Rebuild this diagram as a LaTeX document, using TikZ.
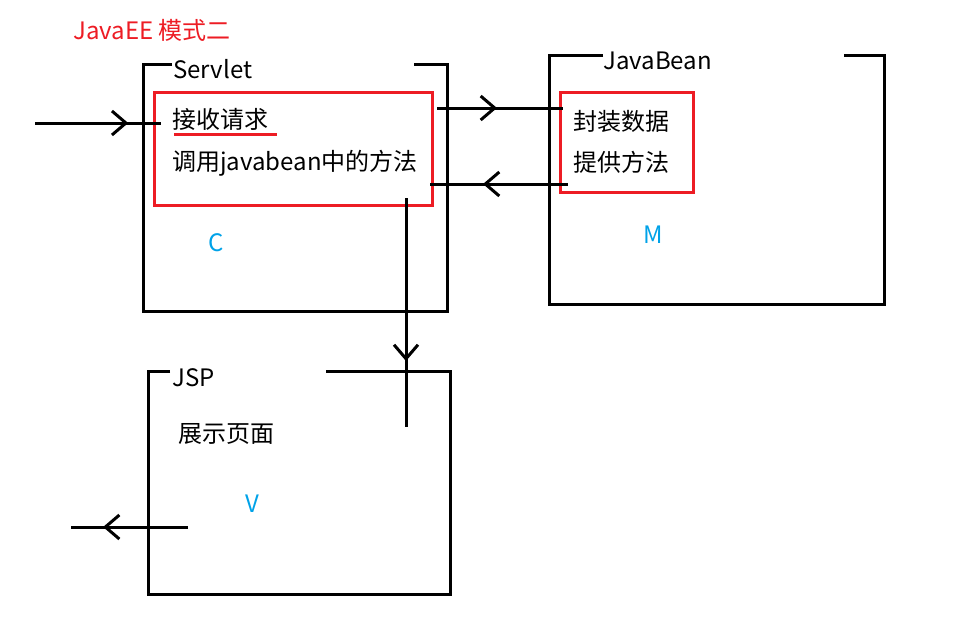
\documentclass[tikz,border=0pt]{standalone}
\usepackage{fontspec}
\newfontfamily\cjk{Noto Sans CJK SC}
\usetikzlibrary{arrows.meta,decorations.markings}
\definecolor{paintred}{RGB}{237,28,36}
\definecolor{paintblue}{RGB}{0,162,232}
\tikzset{
  txt/.style={font=\cjk\fontsize{24}{28}\selectfont, inner sep=0pt, anchor=base west},
  mvc/.style={txt, text=paintblue},
  frame/.style={line width=3pt, black},
  redbox/.style={line width=3pt, paintred},
  flow/.style={line width=3pt, postaction={decorate},
    decoration={markings, mark=at position #1 with {\arrow{Straight Barb[length=14pt,width=24pt,line width=3pt]}}}}
}
\begin{document}
\begin{tikzpicture}[x=1pt,y=-1pt]
\useasboundingbox (0,0) rectangle (979,621);

\node[txt, text=paintred] (title) at (73,39) {JavaEE 模式二};

% Servlet (C)
\draw[frame] (172,64) -| (143,311) -| (447,64) -- (414,64);
\draw[redbox] (154,92) rectangle (432,205);
\node[txt] (servlet) at (173,78) {Servlet};
\node[txt] (recv) at (172,128) {接收请求};
\node[txt] (call) at (172,170) {调用javabean中的方法};
\draw[redbox] (174,134) -- (277,134);
\node[mvc] (c) at (208,251) {C};

% JavaBean (M)
\draw[frame] (603,55) -| (549,304) -| (884,55) -- (844,55);
\draw[redbox] (560,92) rectangle (693,192);
\node[txt] (javabean) at (603,69) {JavaBean};
\node[txt] (pack) at (573,130) {封装数据};
\node[txt] (offer) at (573,171) {提供方法};
\node[mvc] (m) at (643,243) {M};

% JSP (V)
\draw[frame] (170,371) -| (148,594) -| (450,371) -- (326,371);
\node[txt] (jsp) at (172,386) {JSP};
\node[txt] (show) at (178,442) {展示页面};
\node[mvc] (v) at (245,512) {V};

% arrows
\coordinate (inStart) at (35,123);
\coordinate (inEnd) at (161,123);
\coordinate (toBeanStart) at (437,108);
\coordinate (toBeanEnd) at (563,108);
\coordinate (fromBeanStart) at (568,184);
\coordinate (fromBeanEnd) at (430,184);
\coordinate (downStart) at (406,198);
\coordinate (downEnd) at (406,427);
\coordinate (outStart) at (188,527);
\coordinate (outEnd) at (71,527);

\draw[flow=0.74] (inStart) -- (inEnd);
\draw[flow=0.476] (toBeanStart) -- (toBeanEnd);
\draw[flow=0.616] (fromBeanStart) -- (fromBeanEnd);
\draw[flow=0.712] (downStart) -- (downEnd);
\draw[flow=0.726] (outStart) -- (outEnd);
\end{tikzpicture}
\end{document}
